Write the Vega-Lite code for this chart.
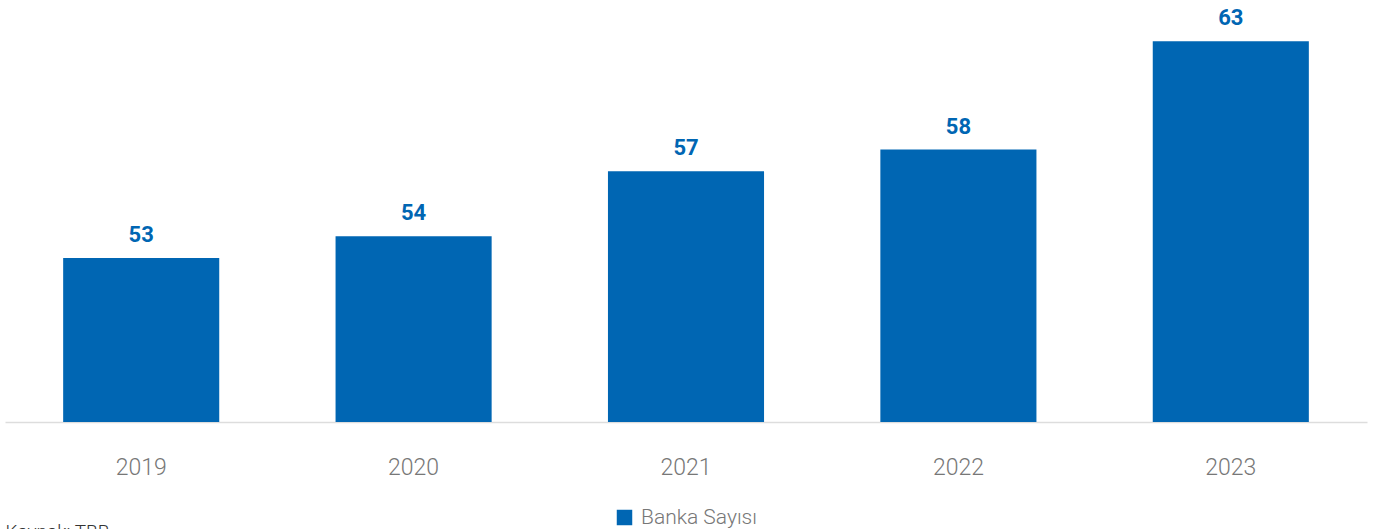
{
  "$schema": "https://vega.github.io/schema/vega-lite/v6.json",
  "autosize": {"type": "none"},
  "width": 1362,
  "height": 422,
  "padding": {"left": 5, "top": 0, "right": 14, "bottom": 107},
  "config": {"view": {"stroke": null}, "font": "Roboto"},
  "data": {"values": [
    {"yil": "2019", "deger": 53, "seri": "Banka Sayısı"},
    {"yil": "2020", "deger": 54, "seri": "Banka Sayısı"},
    {"yil": "2021", "deger": 57, "seri": "Banka Sayısı"},
    {"yil": "2022", "deger": 58, "seri": "Banka Sayısı"},
    {"yil": "2023", "deger": 63, "seri": "Banka Sayısı"}
  ]},
  "encoding": {
    "x": {"field": "yil", "type": "nominal", "sort": null,
      "scale": {"paddingInner": 0.427, "paddingOuter": 0.2135},
      "axis": {"title": "Kaynak: TBB", "titleAnchor": "start", "titleAlign": "left", "titleBaseline": "top", "titleX": 0, "titleY": 100, "titleFontSize": 19, "titleFontWeight": 300, "titleColor": "#333333",
        "labelAngle": 0, "ticks": false, "labelPadding": 34, "labelFontSize": 23, "labelFontWeight": 300, "labelColor": "#777777", "domainColor": "#dddddd", "domainWidth": 1.5}}
  },
  "layer": [
    {
      "mark": {"type": "bar"},
      "encoding": {
        "y": {"field": "deger", "type": "quantitative", "scale": {"domain": [45.43, 64.9], "nice": false, "zero": false}, "axis": null},
        "y2": {"datum": 45.43},
        "color": {"field": "seri", "type": "nominal", "scale": {"range": ["#0066b3"]},
          "legend": {"title": null, "orient": "none", "legendX": 609, "legendY": 507, "direction": "horizontal", "symbolType": "square", "symbolSize": 240, "symbolStrokeWidth": 0, "symbolOpacity": 1, "labelFontSize": 21, "labelFontWeight": 300, "labelColor": "#777777", "labelOffset": 6}}
      }
    },
    {
      "mark": {"type": "text", "baseline": "alphabetic", "dy": -16, "fontSize": 22, "fontWeight": "bold", "color": "#0066b3"},
      "encoding": {
        "y": {"field": "deger", "type": "quantitative"},
        "text": {"field": "deger", "type": "quantitative"}
      }
    }
  ]
}
